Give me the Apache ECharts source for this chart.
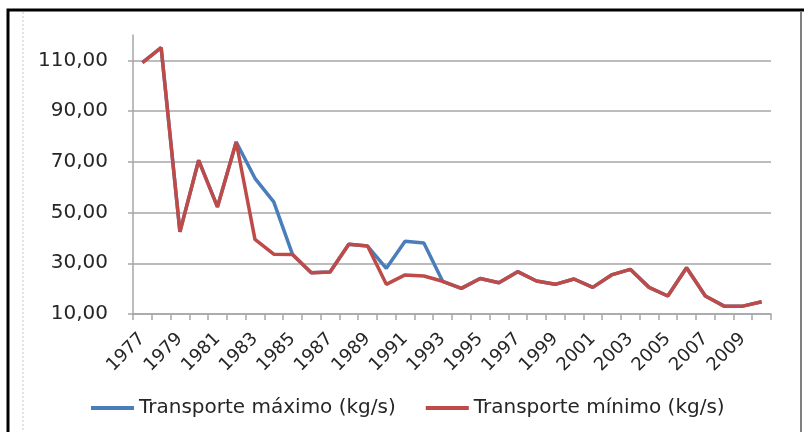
<!DOCTYPE html>
<html>
<head>
<meta charset="utf-8">
<style>
  html, body { margin: 0; padding: 0; background: #ffffff; }
  #chart { width: 804px; height: 432px; }
</style>
<script src="https://cdn.jsdelivr.net/npm/echarts@6/dist/echarts.min.js"></script>
</head>
<body>
<div id="chart"></div>
<script>
// Years on the horizontal axis
const years = ['1977','1978','1979','1980','1981','1982','1983','1984','1985','1986',
  '1987','1988','1989','1990','1991','1992','1993','1994','1995','1996','1997','1998',
  '1999','2000','2001','2002','2003','2004','2005','2006','2007','2008','2009','2010'];

// Maximum sediment transport (kg/s)
const transporteMaximo = [109.1, 115.0, 42.4, 70.6, 52.2, 77.8, 63.5, 54.2, 33.5, 26.3,
  26.6, 37.5, 36.8, 28.0, 38.7, 38.0, 22.9, 20.1, 24.0, 22.3, 26.7, 23.0,
  21.7, 23.8, 20.5, 25.4, 27.6, 20.5, 17.1, 28.2, 17.1, 13.1, 13.1, 14.8];

// Minimum sediment transport (kg/s)
const transporteMinimo = [109.1, 115.0, 42.4, 70.6, 52.2, 77.8, 39.4, 33.6, 33.5, 26.3,
  26.6, 37.5, 36.8, 21.7, 25.4, 25.0, 22.9, 20.1, 24.0, 22.3, 26.7, 23.0,
  21.7, 23.8, 20.5, 25.4, 27.6, 20.5, 17.1, 28.2, 17.1, 13.1, 13.1, 14.8];

// Value axis range
const yMin = 10, yMax = 120, yStep = 20;

const seriesNames = ['Transporte máximo (kg/s)', 'Transporte mínimo (kg/s)'];
const FONT = 'DejaVu Sans';
const gridColor = '#a6a6a6';

const chart = echarts.init(document.getElementById('chart'), null, { renderer: 'canvas' });

chart.setOption({
  animation: false,
  backgroundColor: '#ffffff',
  grid: { left: 133, right: 33, top: 35, bottom: 118, containLabel: false },
  legend: {
    left: 86,
    top: 393,
    icon: 'rect',
    itemWidth: 43,
    itemHeight: 4,
    itemGap: 30,
    textStyle: { fontFamily: FONT, fontSize: 20, color: '#262626' },
    data: seriesNames
  },
  xAxis: {
    type: 'category',
    data: years,
    boundaryGap: true,
    axisLine: { show: true, lineStyle: { color: gridColor, width: 1.5 } },
    axisTick: { show: true, alignWithLabel: false, interval: 0, length: 6, lineStyle: { color: gridColor, width: 1.5 } },
    axisLabel: {
      interval: 1,
      rotate: 45,
      margin: 22,
      fontFamily: FONT,
      fontSize: 18,
      color: '#262626'
    },
    splitLine: { show: false }
  },
  yAxis: {
    type: 'value',
    min: yMin,
    max: yMax,
    interval: yStep,
    axisLine: { show: true, lineStyle: { color: gridColor, width: 1.5 } },
    axisTick: { show: true, length: 5, lineStyle: { color: gridColor, width: 1.5 } },
    axisLabel: {
      margin: 25,
      fontFamily: FONT,
      fontSize: 20,
      color: '#262626',
      showMaxLabel: false,
      formatter: v => v.toFixed(2).replace('.', ',')
    },
    splitLine: {
      show: true,
      lineStyle: {
        width: 1.5,
        color: [gridColor, gridColor, gridColor, gridColor, gridColor, gridColor, 'rgba(0,0,0,0)']
      }
    }
  },
  series: [
    {
      name: seriesNames[0],
      type: 'line',
      data: transporteMaximo,
      showSymbol: false,
      symbol: 'none',
      z: 2,
      lineStyle: { color: '#4a7ebb', width: 3.5 },
      itemStyle: { color: '#4a7ebb' }
    },
    {
      name: seriesNames[1],
      type: 'line',
      data: transporteMinimo,
      showSymbol: false,
      symbol: 'none',
      z: 3,
      lineStyle: { color: '#be4b48', width: 3.5 },
      itemStyle: { color: '#be4b48' }
    }
  ],
  graphic: [
    // outer frame
    { type: 'rect', silent: true, z: 100,
      shape: { x: 8, y: 10, width: 800, height: 440 },
      style: { fill: 'none', stroke: '#000000', lineWidth: 3 } },
    // right edge
    { type: 'line', silent: true, z: 100,
      shape: { x1: 801, y1: 12, x2: 801, y2: 432 },
      style: { stroke: '#7f7f7f', lineWidth: 2 } },
    // inner dotted margin line
    { type: 'line', silent: true, z: 100,
      shape: { x1: 23, y1: 12, x2: 23, y2: 432 },
      style: { stroke: '#c8c8c8', lineWidth: 1, lineDash: [2, 2] } }
  ]
});
</script>
</body>
</html>
